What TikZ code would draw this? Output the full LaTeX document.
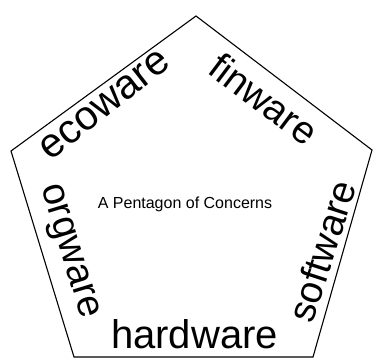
\documentclass[tikz,border=0pt]{standalone}
\usepackage{fontspec}
\setmainfont{Liberation Sans}
\tikzset{
  rim/.style={draw=black,line width=1.1pt,line join=miter},
  sidelabel/.style={font=\fontsize{38.5}{40}\selectfont,inner sep=0pt},
  title/.style={font=\fontsize{16}{18}\selectfont,inner sep=0pt},
}
\begin{document}
\begin{tikzpicture}[x=1pt,y=-1pt]
  \useasboundingbox (0,0) rectangle (374,358);
  % corners
  \coordinate (top) at (196,16);
  \coordinate (ne) at (372,150);
  \coordinate (se) at (313,357);
  \coordinate (sw) at (74,357);
  \coordinate (nw) at (11,151);
  \draw[rim] (top) -- (ne) -- (se) -- (sw) -- (nw) -- cycle;
  % the five concerns
  \node[sidelabel,font=\fontsize{41}{43}\selectfont,rotate=38] (eco) at (104.5,105) {ecoware};
  \node[sidelabel,rotate=-37] (fin) at (264,99) {finware};
  \node[sidelabel,rotate=72] (soft) at (322,251) {software};
  \node[sidelabel,rotate=-73] (org) at (68,252) {orgware};
  \node[sidelabel,font=\fontsize{40}{42}\selectfont,anchor=base] (hard) at (194.5,348) {hardware};
  \node[title,anchor=base] (pent) at (185,208) {A Pentagon of Concerns};
\end{tikzpicture}
\end{document}
